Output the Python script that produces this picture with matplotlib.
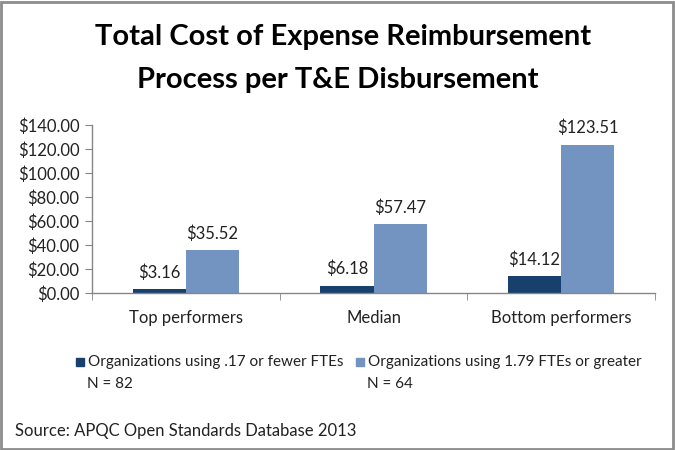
import numpy as np
import matplotlib
matplotlib.use("Agg")
import matplotlib.pyplot as plt
from matplotlib.patches import Rectangle

plt.rcParams['font.family'] = ['Lato', 'DejaVu Sans']

categories = ["Top performers", "Median", "Bottom performers"]
low_fte = [3.16, 6.18, 14.12]
high_fte = [35.52, 57.47, 123.51]
series_names = ["Organizations using .17 or fewer FTEs", "Organizations using 1.79 FTEs or greater"]
series_n = ["N = 82", "N = 64"]
yticks = [0, 20, 40, 60, 80, 100, 120, 140]

dark = "#17406D"
light = "#7394C0"
grey = "#868686"

W, H = 675, 450
fig = plt.figure(figsize=(W / 100, H / 100), dpi=100)

# axes box in pixels: x 92..655, y 125..293
ax = fig.add_axes([92 / W, (H - 293) / H, (655 - 92) / W, (293 - 125) / H])

x = np.arange(len(categories))
bw = 0.283
b1 = ax.bar(x - bw / 2, low_fte, bw, color=dark)
b2 = ax.bar(x + bw / 2, high_fte, bw, color=light)

for bars, vals in [(b1, low_fte), (b2, high_fte)]:
    for rect, v in zip(bars, vals):
        ax.annotate(f"${v:.2f}", (rect.get_x() + rect.get_width() / 2, v),
                    xytext=(0, 6), textcoords="offset points",
                    ha="center", va="bottom", fontsize=12, color="#222222")

ax.set_xlim(-0.5, len(categories) - 0.5)
ax.set_ylim(0, 140)
ax.set_yticks(yticks)
ax.set_yticklabels([f"${t:.2f}" for t in yticks], fontsize=12, color="#222222")
ax.set_xticks(x)
ax.set_xticklabels(categories, fontsize=12, color="#222222")
ax.set_xticks(np.arange(-0.5, len(categories)), minor=True)
ax.tick_params(axis="x", which="major", length=0, pad=12)
ax.tick_params(axis="x", which="minor", length=5, color=grey, direction="out")
ax.tick_params(axis="y", length=5, color=grey, pad=4)

for s in ["top", "right"]:
    ax.spines[s].set_visible(False)
for s in ["left", "bottom"]:
    ax.spines[s].set_color(grey)
    ax.spines[s].set_linewidth(1)

# title
fig.text(343 / W, 1 - 37 / H, "Total Cost of Expense Reimbursement", ha="center", va="center",
         fontsize=21, fontweight="bold")
fig.text(338 / W, 1 - 80 / H, "Process per T&E Disbursement", ha="center", va="center",
         fontsize=21, fontweight="bold")

# legend drawn by hand
for i, (name, n, col) in enumerate(zip(series_names, series_n, [dark, light])):
    mx = [76, 356][i]
    fig.patches.append(Rectangle((mx / W, 1 - 366 / H), 8 / W, 8 / H, transform=fig.transFigure,
                                 color=col))
    fig.text((mx + 12) / W, 1 - 362 / H, name, ha="left", va="center", fontsize=11, color="#222222")
    fig.text((mx + 11) / W, 1 - 384 / H, n, ha="left", va="center", fontsize=11, color="#222222")

fig.text(15 / W, 1 - 431 / H, "Source: APQC Open Standards Database 2013", ha="left", va="center",
         fontsize=12, color="#222222")

# grey frame around the whole picture
fig.patches.append(Rectangle((1 / W, 1 / H), (W - 3) / W, (H - 3) / H, transform=fig.transFigure,
                             fill=False, edgecolor="#8C8C8C", linewidth=2))

fig.savefig("out.png", dpi=100)
